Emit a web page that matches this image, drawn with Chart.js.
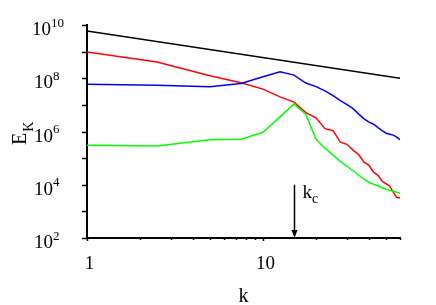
<!DOCTYPE html>
<html>
<head>
<meta charset="utf-8">
<script src="https://cdn.jsdelivr.net/npm/chart.js@4/dist/chart.umd.min.js"></script>
<style>
html,body{margin:0;padding:0;background:#fff;}
canvas{display:block;}
</style>
</head>
<body>
<canvas id="c" width="436" height="305"></canvas>
<script>
// ---- data ----
const kValues = [1, 2.5, 5, 7.5, 10, 12.5, 15, 17.5, 20, 22.5, 25, 27.5, 30, 32.5, 35, 37.5, 40, 42.5, 45, 47.5, 50, 52.5, 55, 57.5, 60];
const redSeries = [9.6e8, 4.1e8, 1.25e8, 6.8e7, 3.9e7, 2.0e7, 1.27e7, 5.1e6, 3.25e6, 1.28e6, 1.07e6, 4.0e5, 3.3e5, 2.0e5, 1.34e5, 7.0e4, 5.4e4, 2.95e4, 2.27e4, 1.35e4, 1.09e4, 8.8e3, 5.2e3, 3.4e3, 3.2e3];
const blueSeries = [6.0e7, 5.5e7, 4.8e7, 6.4e7, 1.13e8, 1.75e8, 1.31e8, 6.6e7, 4.85e7, 3.37e7, 2.23e7, 1.45e7, 1.02e7, 7.2e6, 4.5e6, 3.0e6, 2.24e6, 1.88e6, 1.39e6, 1.07e6, 8.6e5, 7.9e5, 7.3e5, 6.1e5, 4.9e5];
const greenSeries = [3.06e5, 2.88e5, 4.9e5, 5.1e5, 9.4e5, 3.55e6, 1.07e7, 4.5e6, 5.1e5, 2.36e5, 1.29e5, 7.6e4, 4.95e4, 3.36e4, 2.27e4, 1.61e4, 1.24e4, 1.04e4, 9.2e3, 7.7e3, 6.8e3, 6.2e3, 5.7e3, 5.2e3, 4.8e3];
const refLineK = [1, 60];
const refLineE = [6e9, 1e8];
const yTickValues = [1e2, 1e3, 1e4, 1e5, 1e6, 1e7, 1e8, 1e9, 1e10];
const yLabelExponents = [2, 4, 6, 8, 10];
const xTickValues = [1, 2, 3, 4, 5, 6, 7, 8, 9, 10, 20, 30, 40, 50, 60];
const xLabelValues = [1, 10];
const kcValue = 15;
const kcArrowTop = 1e4;
const kcArrowBottom = 1e2;

const toPts = (xs, ys) => xs.map((x, i) => ({x: x, y: ys[i]}));
const SERIF = '"Liberation Serif", "Times New Roman", serif';

const decor = {
  id: 'decor',
  afterDraw(chart) {
    const ctx = chart.ctx;
    const xs = chart.scales.x, ys = chart.scales.y;
    const a = chart.chartArea;
    ctx.save();
    ctx.strokeStyle = '#000';
    ctx.fillStyle = '#000';
    ctx.lineWidth = 1.5;
    // y ticks
    yTickValues.forEach(v => {
      const y = Math.round(ys.getPixelForValue(v)) + 0.5;
      ctx.beginPath(); ctx.moveTo(a.left - 5, y); ctx.lineTo(a.left, y); ctx.stroke();
    });
    // x ticks
    xTickValues.forEach(v => {
      const x = Math.round(xs.getPixelForValue(v)) + 0.5;
      const len = (v === 1 || v === 10) ? 3 : 2;
      ctx.beginPath(); ctx.moveTo(x, a.bottom); ctx.lineTo(x, a.bottom + len); ctx.stroke();
    });
    // y labels with superscripts
    ctx.textAlign = 'left';
    ctx.textBaseline = 'alphabetic';
    yLabelExponents.forEach(e => {
      const y = ys.getPixelForValue(Math.pow(10, e));
      const x0 = e >= 10 ? 32 : 34;
      ctx.font = '19px ' + SERIF;
      ctx.fillText('10', x0, y + 10);
      const w = ctx.measureText('10').width;
      ctx.font = '13px ' + SERIF;
      ctx.fillText(String(e), x0 + w, y + 1.5);
    });
    // x labels
    ctx.font = '19px ' + SERIF;
    ctx.textAlign = 'center';
    xLabelValues.forEach(v => {
      const x = xs.getPixelForValue(v);
      ctx.fillText(String(v), x + 2.5, a.bottom + 31);
    });
    // x title
    ctx.font = '20px ' + SERIF;
    ctx.fillText('k', (a.left + a.right) / 2, 302);
    // y title E_K rotated
    ctx.save();
    ctx.translate(26, (a.top + a.bottom) / 2 + 13.5);
    ctx.rotate(-Math.PI / 2);
    ctx.textAlign = 'left';
    ctx.font = '20px ' + SERIF;
    ctx.fillText('E', 0, 0);
    const ew = ctx.measureText('E').width;
    ctx.font = '14px ' + SERIF;
    ctx.fillText('K', ew + 1, 7);
    ctx.restore();
    // k_c arrow
    const ax = Math.round(xs.getPixelForValue(kcValue)) + 0.5;
    const yTop = ys.getPixelForValue(kcArrowTop);
    const yBot = ys.getPixelForValue(kcArrowBottom);
    ctx.lineWidth = 1.5;
    ctx.beginPath(); ctx.moveTo(ax, yTop); ctx.lineTo(ax, yBot - 6); ctx.stroke();
    ctx.beginPath();
    ctx.moveTo(ax - 3, yBot - 8); ctx.lineTo(ax + 3, yBot - 8); ctx.lineTo(ax, yBot); ctx.closePath(); ctx.fill();
    ctx.textAlign = 'left';
    ctx.font = '19px ' + SERIF;
    ctx.fillText('k', ax + 8, yTop + 13);
    ctx.font = '14px ' + SERIF;
    ctx.fillText('c', ax + 17.5, yTop + 18);
    ctx.restore();
  }
};

const mk = (label, data, color) => ({
  label: label, data: data, borderColor: color, backgroundColor: color,
  borderWidth: 1.5, pointRadius: 0, tension: 0, fill: false
});

new Chart(document.getElementById('c'), {
  type: 'line',
  data: {
    datasets: [
      mk('reference', toPts(refLineK, refLineE), '#000000'),
      mk('green', toPts(kValues, greenSeries), '#00ff00'),
      mk('blue', toPts(kValues, blueSeries), '#0000ff'),
      mk('red', toPts(kValues, redSeries), '#ff0000')
    ]
  },
  options: {
    responsive: false,
    animation: false,
    devicePixelRatio: 1,
    layout: {padding: {left: 0, right: 36, top: 25, bottom: 0}},
    plugins: {legend: {display: false}, tooltip: {enabled: false}},
    scales: {
      x: {
        type: 'logarithmic', min: 1, max: 60,
        grid: {display: false, drawTicks: false},
        border: {display: true, color: '#000', width: 2},
        ticks: {display: false},
        afterFit(s) { s.height = 67; }
      },
      y: {
        type: 'logarithmic', min: 1e2, max: 1e10,
        grid: {display: false, drawTicks: false},
        border: {display: true, color: '#000', width: 2},
        ticks: {display: false},
        afterFit(s) { s.width = 87; }
      }
    }
  },
  plugins: [decor]
});
</script>
</body>
</html>
